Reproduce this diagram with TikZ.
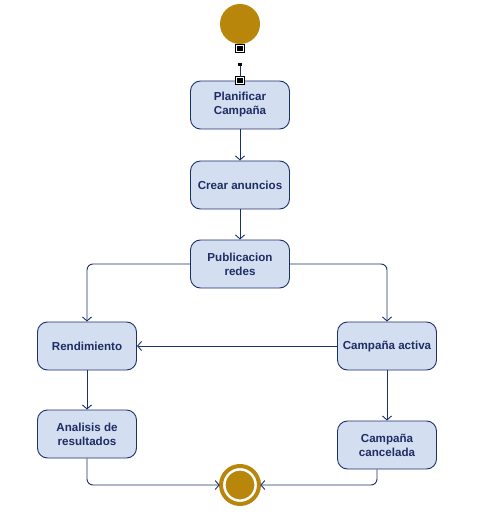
\documentclass[tikz,border=0pt]{standalone}
\usepackage{fontspec}
\setmainfont{Liberation Sans}
\usetikzlibrary{arrows.meta, positioning}
\definecolor{actfill}{RGB}{212,222,241}
\definecolor{actline}{RGB}{28,48,110}
\definecolor{acttext}{RGB}{30,45,100}
\definecolor{umlgold}{RGB}{184,134,11}
\tikzset{activity/.style={rectangle, rounded corners=10pt, fill=actfill, draw=actline, line width=0.9pt, minimum width=99pt, minimum height=48pt, align=center, text=acttext, font=\bfseries\fontsize{11.6}{14}\selectfont},flow/.style={draw=actline, line width=0.9pt, rounded corners=6pt, -{Straight Barb[length=4pt, width=9pt]}}}

\begin{document}
\begin{tikzpicture}[
        x=1pt, y=-1pt,
        initial/.style={circle, fill=umlgold, minimum size=40pt, inner sep=0pt},
        final/.style={circle, fill=umlgold, draw=white, double=umlgold, double distance=4pt, line width=2.6pt, minimum size=38pt, inner sep=0pt},
        handle/.style={rectangle, draw=black, fill=black, double=white, double distance=1pt, line width=0.9pt, minimum size=6.5pt, inner sep=0pt},
        handledot/.style={rectangle, fill=black, minimum size=3.5pt, inner sep=0pt}
    ]
        \useasboundingbox (0,0) rectangle (482,518);
        % Nodes
        \node[initial] (inicio) at (240,24) {};
        \node[activity] (planificar) at (240,105) {Planificar\\Campaña};
        \node[activity] (crear) at (240,185) {Crear anuncios};
        \node[activity] (publicacion) at (240,264) {Publicacion\\redes};
        \node[activity] (rendimiento) at (87,346) {Rendimiento};
        \node[activity] (activa) at (387,346) {Campaña activa};
        \node[activity] (analisis) at (87,434) {Analisis de\\resultados};
        \node[activity] (cancelada) at (387,445) {Campaña\\cancelada};
        \node[final] (fin) at (240,485) {};
        % Start connector with handles
        \node[handledot] (punto) at (240,64.5) {};
        \node[handle] (h2) at (planificar.north) {};
        \draw[actline, line width=0.9pt] (punto) -- (h2);
        \node[handle] (h1) at (240,48.5) {};
        % Edges
        \draw[flow] (planificar) -- (crear);
        \draw[flow] (crear) -- (publicacion);
        \draw[flow] (publicacion.west) -| (rendimiento.north);
        \draw[flow] (publicacion.east) -| (activa.north);
        \draw[flow] (activa) -- (rendimiento);
        \draw[flow] (rendimiento) -- (analisis);
        \draw[flow] (activa) -- (cancelada);
        \draw[flow] (analisis.south) |- (fin.west);
        \draw[flow] ([xshift=-10pt]cancelada.south) |- (fin.east);
\end{tikzpicture}
\end{document}
